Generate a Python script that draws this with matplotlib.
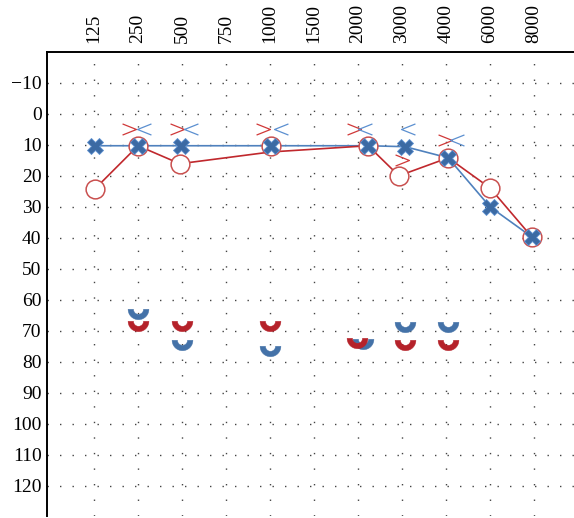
import numpy as np
import matplotlib
matplotlib.use("Agg")
from matplotlib import pyplot as plt
from matplotlib.path import Path

freqs = ['125', '250', '500', '750', '1000', '1500', '2000', '3000', '4000', '6000', '8000']
db_ticks = list(range(-10, 130, 10))

# air conduction, left ear (blue X)
left_x = [0.02, 1.0, 1.98, 4.02, 6.23, 7.07, 8.05, 9.0, 9.95]
left_db = [10.3, 10.3, 10.3, 10.3, 10.3, 10.6, 14.2, 30, 39.7]

# air conduction, right ear (red O) and its connecting line
right_x = [0.02, 1.0, 1.95, 4.02, 6.23, 6.93, 8.05, 9.0, 9.95]
right_db = [24.2, 10.3, 16.1, 10.3, 10.3, 20, 14.2, 23.9, 39.7]
right_line_db = [24.2, 10.3, 16.1, 12.3, 10.3, 20, 14.2, 23.9, 39.7]

# bone conduction symbols
bc_right_x = [0.80, 1.89, 3.84, 5.91, 7.0, 7.98]
bc_right_db = [5, 5, 5, 5, 15, 8.5]
bc_left_x = [1.14, 2.2, 4.25, 6.16, 7.14, 8.25]
bc_left_db = [5, 5, 5, 5, 5, 8.5]

# masked bone conduction (half circles)
mbc_left_x = [1.0, 2.0, 4.0, 6.11, 7.07, 8.05]
mbc_left_db = [64.5, 74.5, 76.5, 74.4, 68.7, 68.7]
mbc_right_x = [1.0, 2.0, 4.0, 5.98, 7.07, 8.05]
mbc_right_db = [68.6, 68.6, 68.6, 73.8, 74.5, 74.5]

RED = '#c0282d'
RED_C = '#c9504f'
BLUE = '#4f81bd'
BLUE_X = '#3c6aa3'
BLUE_L = '#5b8fd0'

# custom marker shapes
t = np.linspace(np.pi, 2 * np.pi, 40)
outer = np.column_stack([np.cos(t), np.sin(t)])
inner = np.column_stack([0.48 * np.cos(t[::-1]), 0.48 * np.sin(t[::-1])])
cup = np.vstack([outer, inner, outer[:1]])
cup[:, 1] += 0.5
cup_path = Path(cup, closed=True)
gt_path = Path([(-1, 0.8), (1, 0), (-1, -0.8)], [Path.MOVETO, Path.LINETO, Path.LINETO])
lt_path = Path([(1, 0.8), (-1, 0), (1, -0.8)], [Path.MOVETO, Path.LINETO, Path.LINETO])

plt.rcParams['font.family'] = ['Liberation Serif', 'DejaVu Serif']

fig = plt.figure(figsize=(5.74, 5.18), dpi=100)
ax = fig.add_axes([0.082, 0.004, 0.918, 0.896])

ax.plot(left_x, left_db, color=BLUE, lw=1.2, zorder=3)
ax.plot(right_x, right_line_db, color=RED, lw=1.2, zorder=3)
ax.plot(right_x, right_db, ls='none', marker='o', ms=13.5, mfc='white', mec=RED_C, mew=1.1, zorder=4)
ax.plot(left_x, left_db, ls='none', marker='X', ms=11, mfc=BLUE_X, mec=BLUE_L, mew=0.6, zorder=5)

ax.plot(bc_right_x, bc_right_db, ls='none', marker=gt_path, ms=10, mfc='none', mec='#d03838', mew=0.9, zorder=5)
ax.plot(bc_left_x, bc_left_db, ls='none', marker=lt_path, ms=10, mfc='none', mec=BLUE_L, mew=0.9, zorder=5)

ax.plot(mbc_left_x, mbc_left_db, ls='none', marker=cup_path, ms=15, mfc='#4472a8', mec='#4472a8', mew=0.3, zorder=5)
ax.plot(mbc_right_x, mbc_right_db, ls='none', marker=cup_path, ms=15, mfc='#b5222a', mec='#b5222a', mew=0.3, zorder=6)

ax.set_xlim(-1.068, 10.91)
ax.set_ylim(129.7, -20)
ax.set_xticks(range(len(freqs)))
ax.set_xticklabels(freqs, rotation=90)
ax.set_yticks(db_ticks)
ax.set_yticklabels([str(v).replace('-', '\u2212') for v in db_ticks])
ax.xaxis.tick_top()
ax.tick_params(axis='both', length=0, labelsize=14)
ax.tick_params(axis='y', pad=4)
ax.tick_params(axis='x', pad=6)

ax.yaxis.grid(True, color='#444444', lw=1.0, linestyle=(0, (1, 8)))
ax.xaxis.grid(True, color='#444444', lw=1.0, linestyle=(0, (1, 10.2)))
ax.set_axisbelow(True)

for s in ['right', 'bottom']:
    ax.spines[s].set_visible(False)
for s in ['left', 'top']:
    ax.spines[s].set_linewidth(1.4)

fig.savefig('out.png', dpi=100)
